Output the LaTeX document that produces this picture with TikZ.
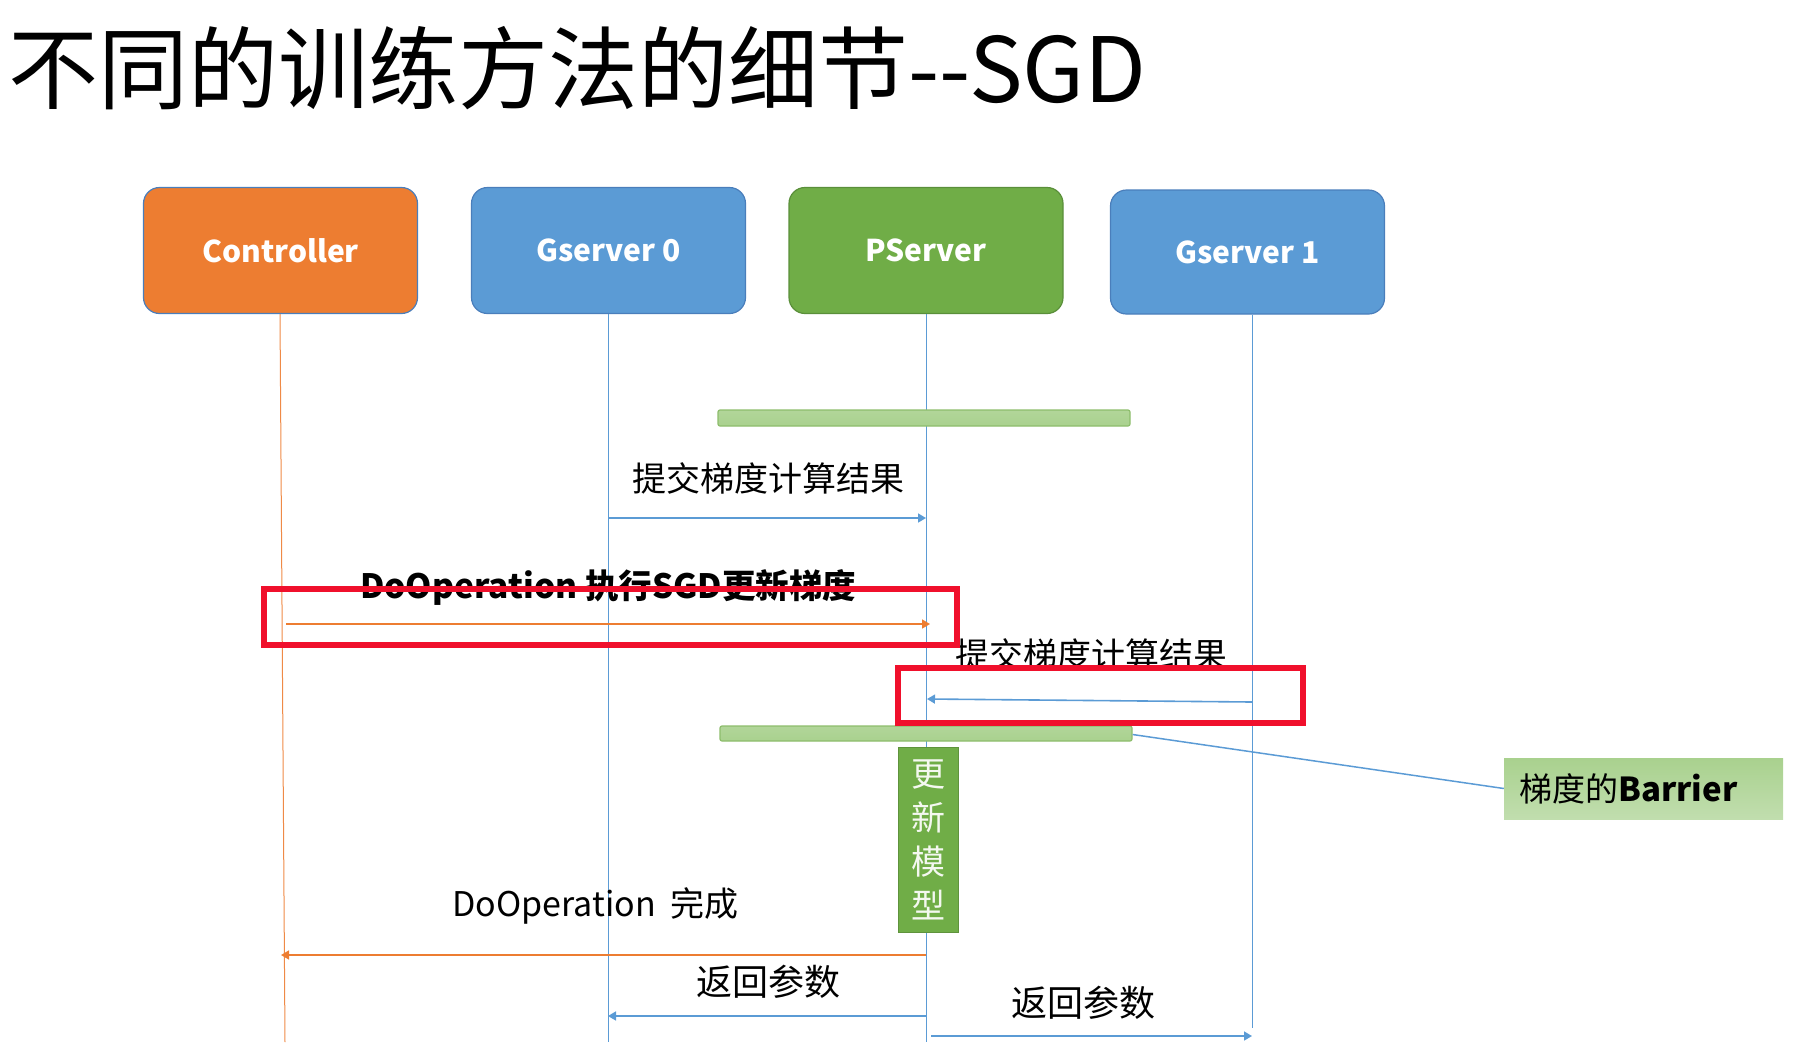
\documentclass[tikz,border=0pt]{standalone}
\usepackage{fontspec}
\setmainfont{Noto Sans CJK SC}
\usetikzlibrary{arrows.meta,shadings}
\definecolor{cOrange}{HTML}{ED7D31}
\definecolor{cBlue}{HTML}{5B9BD5}
\definecolor{cGreen}{HTML}{70AD47}
\definecolor{cBlueEdge}{HTML}{4A7EBB}
\definecolor{cGreenEdge}{HTML}{5A8F3A}
\definecolor{cLight}{HTML}{A9D18E}
\definecolor{cLighter}{HTML}{C5E0B4}
\definecolor{cRed}{RGB}{240,16,44}
\tikzset{
  actor/.style={draw=cBlueEdge,line width=1.2pt,rounded corners=16pt,minimum width=274pt,minimum height=126pt,text=white,font=\fontsize{30}{36}\selectfont\bfseries},
  life/.style={line width=1pt,cBlue},
  msgb/.style={line width=1.6pt,cBlue,-{Triangle[width=9pt,length=8pt]}},
  msgo/.style={line width=1.6pt,cOrange,-{Triangle[width=9pt,length=8pt]}},
  lbl/.style={font=\fontsize{34}{40}\selectfont,inner sep=0pt},
  bar/.style={draw=cGreen!80!white,line width=1.2pt,rounded corners=2pt,top color=cLight!90!white,bottom color=cLight},
  hl/.style={draw=cRed,line width=6pt},
}
\begin{document}
\begin{tikzpicture}[x=1pt,y=-1pt]
\useasboundingbox (0,0) rectangle (1802,1042);
% title
\node[anchor=base west,inner sep=0pt,font=\fontsize{90}{100}\selectfont] (title) at (8,102) {不同的训练方法的细节-{}-SGD};
% actors
\node[actor,fill=cOrange] (ctl) at (280.5,250.5) {Controller};
\node[actor,fill=cBlue] (g0) at (608.5,250.5) {Gserver 0};
\node[actor,fill=cGreen,draw=cGreenEdge] (ps) at (926,250.5) {PServer};
\node[actor,fill=cBlue,minimum height=124pt] (g1) at (1247.5,252) {Gserver 1};
% lifeline ends
\coordinate (ctlT) at (280,314);
\coordinate (ctlB) at (285,1042);
\coordinate (g0B) at (608,1042);
\coordinate (psB) at (926,1042);
\coordinate (g1B) at (1252,1028);
\draw[line width=1pt,cOrange!90!white] (ctlT) -- (ctlB);
\draw[life] (g0.south -| g0B) -- (g0B);
\draw[life] (ps.south -| psB) -- (psB);
\draw[life] (g1.south -| g1B) -- (g1B);
% green bars
\node[bar,minimum width=412pt,minimum height=16pt,inner sep=0pt] (bar1) at (924,418) {};
\node[bar,minimum width=412pt,minimum height=15pt,inner sep=0pt] (bar2) at (926,733.5) {};
% messages
\coordinate (m1s) at (608,518); \coordinate (m1e) at (926,518);
\draw[msgb] (m1s) -- (m1e);
\node[lbl] (l1) at (768,478) {提交梯度计算结果};
\coordinate (m2s) at (286,624); \coordinate (m2e) at (930,624);
\draw[msgo] (m2s) -- (m2e);
\node[lbl,anchor=west,font=\fontsize{33.5}{38}\selectfont\bfseries] (l2) at (360,587) {DoOperation 执行SGD更新梯度};
\coordinate (m3s) at (1252,702); \coordinate (m3e) at (927,699);
\draw[msgb] (m3s) -- (m3e);
\node[lbl,anchor=west] (l3) at (955,654) {提交梯度计算结果};
% update model box
\node[fill=cGreen,draw=cGreen!85!black,line width=0.6pt,minimum width=60pt,minimum height=185pt,inner sep=0pt] (upd) at (928,839.5) {};
\node[lbl,text=white!92!cGreen,font=\fontsize{34}{44}\selectfont,align=center] (updt) at (928,839.5) {更\\新\\模\\型};
% barrier note
\node[minimum width=279pt,minimum height=61pt,inner sep=0pt,top color=cLight,bottom color=cLighter!85!cLight] (note) at (1643.5,788.5) {};
\node[lbl,anchor=west,font=\fontsize{33}{38}\selectfont] (notet) at (1519,789) {梯度的\textbf{Barrier}};
\draw[line width=1.5pt,cBlue] (bar2.east) ++(0,1) -- (note.west);
% return
\coordinate (m4s) at (926,955); \coordinate (m4e) at (281,955);
\draw[msgo] (m4s) -- (m4e);
\node[lbl,anchor=west,font=\fontsize{34}{40}\selectfont] (l4) at (452,906) {DoOperation\ \ 完成};
\coordinate (m5s) at (926,1016); \coordinate (m5e) at (608,1016);
\draw[msgb] (m5s) -- (m5e);
\node[lbl,font=\fontsize{36}{40}\selectfont] (l5) at (768,982) {返回参数};
\coordinate (m6s) at (931,1036); \coordinate (m6e) at (1252,1036);
\draw[msgb] (m6s) -- (m6e);
\node[lbl,font=\fontsize{36}{40}\selectfont] (l6) at (1083,1003) {返回参数};
% red highlights
\node[hl,minimum width=693pt,minimum height=56pt,inner sep=0pt] (hl1) at (610.5,617) {};
\node[hl,minimum width=405pt,minimum height=55pt,inner sep=0pt] (hl2) at (1100.5,695.5) {};
\end{tikzpicture}
\end{document}
